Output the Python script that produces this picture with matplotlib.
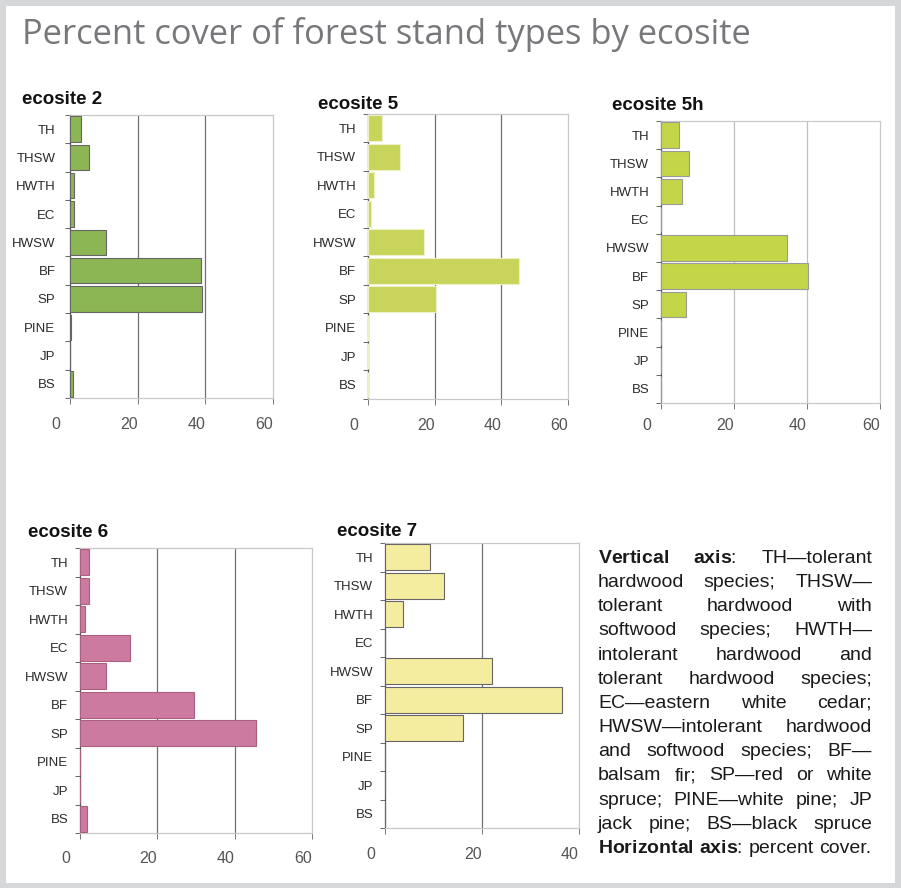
import matplotlib
matplotlib.use("Agg")
import matplotlib.pyplot as plt
from matplotlib.patches import Rectangle
from matplotlib.transforms import ScaledTranslation

W, H = 901, 888

# stand types, top to bottom
stand_types = ["TH", "THSW", "HWTH", "EC", "HWSW", "BF", "SP", "PINE", "JP", "BS"]

# percent cover
eco2 = [3.2, 5.5, 1.2, 1.3, 10.6, 38.6, 38.9, 0.2, 0.0, 0.8]
eco5 = [4.1, 9.5, 1.9, 1.0, 16.8, 45.2, 20.4, 0.0, 0.0, 0.0]
eco5h = [4.9, 7.7, 5.7, 0.0, 34.4, 40.4, 6.8, 0.0, 0.0, 0.0]
eco6 = [2.3, 2.3, 1.2, 13.0, 6.6, 29.4, 45.4, 0.0, 0.0, 1.9]
eco7 = [9.3, 12.2, 3.7, 0.0, 22.1, 36.5, 16.0, 0.0, 0.0, 0.0]

ticks60 = [0, 20, 40, 60]
ticks40 = [0, 20, 40]

# caption, one entry per printed line (bold words via mathtext)
caption_lines = [
    r"$\mathbf{Vertical}$ $\mathbf{axis}$: TH—tolerant",
    "hardwood species; THSW—",
    "tolerant hardwood with",
    "softwood species; HWTH—",
    "intolerant hardwood and",
    "tolerant hardwood species;",
    "EC—eastern white cedar;",
    "HWSW—intolerant hardwood",
    "and softwood species; BF—",
    "balsam fir; SP—red or white",
    "spruce; PINE—white pine; JP",
    "jack pine; BS—black spruce",
]
caption_last = r"$\mathbf{Horizontal}$ $\mathbf{axis}$: percent cover."

SANS = "Liberation Sans"
plt.rcParams["mathtext.fontset"] = "custom"
plt.rcParams["mathtext.rm"] = "Liberation Sans"
plt.rcParams["mathtext.bf"] = "Liberation Sans:bold"

fig = plt.figure(figsize=(W / 100, H / 100), dpi=100)
fig.patch.set_facecolor("white")

# grey frame around the whole figure
fig.patches.append(Rectangle((3 / W, 2.5 / H), 1 - 6.5 / W, 1 - 5.5 / H,
                             transform=fig.transFigure, fill=False,
                             edgecolor="#d5d7d9", linewidth=4.3))

fig.text(22 / W, 1 - 43.5 / H, "Percent cover of forest stand types by ecosite",
         family="Open Sans", fontsize=24.8, color="#77787b", va="baseline")


def rect(l, t, r, b):
    return [l / W, 1 - b / H, (r - l) / W, (b - t) / H]


def panel(box, title, tx, ty, values, ticks, color, edge, grid_color,
          xlab_pad, ylab_pad=8.5):
    ax = fig.add_axes(rect(*box))
    y = list(range(len(stand_types)))
    ax.barh(y, values, height=0.9, color=color, edgecolor=edge,
            linewidth=0.8, zorder=3)
    for t in ticks[1:-1]:
        ax.axvline(t, color=grid_color, linewidth=0.9, zorder=1)
    ax.set_xlim(0, ticks[-1])
    ax.set_ylim(len(stand_types) - 0.5, -0.5)
    ax.set_yticks(y)
    ax.set_yticklabels(stand_types, family=SANS, fontsize=9.5, color="#2a2a2a")
    ax.set_yticks([k + 0.5 for k in range(-1, len(stand_types))], minor=True)
    ax.tick_params(axis="y", which="major", length=0, pad=ylab_pad)
    ax.tick_params(axis="y", which="minor", length=3.5, width=0.7,
                   color="#666666")
    ax.set_xticks(ticks)
    ax.set_xticklabels([str(t) for t in ticks], family=SANS, fontsize=11.5,
                       color="#555555")
    ax.tick_params(axis="x", length=4, width=0.7, color="#777777",
                   pad=xlab_pad)
    for i, lab in enumerate(ax.get_xticklabels()):
        dx = -14 if i == 0 else -9
        shift = ScaledTranslation(dx / 100, 0, fig.dpi_scale_trans)
        lab.set_transform(lab.get_transform() + shift)
    ax.spines["left"].set_color("#555555")
    ax.spines["left"].set_linewidth(0.9)
    for s in ["top", "right", "bottom"]:
        ax.spines[s].set_color("#c8c8c8")
        ax.spines[s].set_linewidth(0.9)
    fig.text(tx / W, 1 - ty / H, title, family=SANS, fontweight="bold",
             fontsize=13.5, color="#111111", va="baseline")
    return ax


panel((70, 115, 273, 398), "ecosite 2", 22, 104, eco2, ticks60,
      "#8cb654", "#666666", "#707070", 10, 10.5)
panel((368, 114, 568, 399), "ecosite 5", 318, 109, eco5, ticks60,
      "#c9d45a", "#eef0c8", "#707070", 10)
panel((661, 121, 880, 403), "ecosite 5h", 612, 110, eco5h, ticks60,
      "#c5d548", "#9a9a9a", "#c0c0c0", 6.5)
panel((80, 548, 312, 833), "ecosite 6", 28, 537, eco6, ticks60,
      "#cc7aa0", "#a9607f", "#707070", 9)
panel((385, 543, 579, 828), "ecosite 7", 337, 536, eco7, ticks40,
      "#f4ec9e", "#666666", "#707070", 10)

# justified caption block
X0, X1 = 598, 872
FS = 14.0
renderer = fig.canvas.get_renderer()


def put_line(line, ybase, justify):
    objs = [fig.text(0, 1 - ybase / H, w, family=SANS, fontsize=FS,
                     color="#1a1a1a", va="baseline", ha="left")
            for w in line.split(" ")]
    widths = [t.get_window_extent(renderer).width for t in objs]
    if justify and len(objs) > 1:
        gap = (X1 - X0 - sum(widths)) / (len(objs) - 1)
    else:
        gap = FS * 0.28 * 100 / 72
    x = X0
    for t, w in zip(objs, widths):
        t.set_x(x / W)
        x += w + gap


for i, line in enumerate(caption_lines):
    put_line(line, 563 + i * 24.15, True)
put_line(caption_last, 853, False)

fig.savefig("out.png", dpi=100, facecolor="white")
